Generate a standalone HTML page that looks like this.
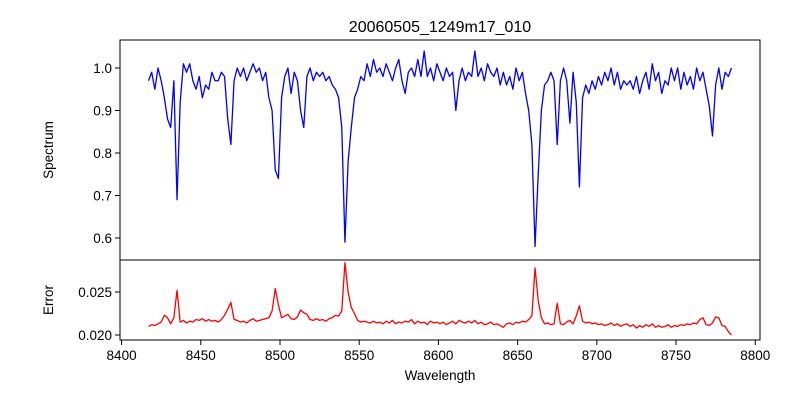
<!DOCTYPE html>
<html><head><meta charset="utf-8"><style>
body{margin:0;background:#fff}
svg{display:block;font-family:"Liberation Sans","DejaVu Sans",sans-serif}
</style></head><body>
<svg id="c" width="800" height="400" viewBox="0 0 800 400"></svg>
<script>
const wlStart = 8417, wlStep = 2;
const flux = [.97,.99,.95,1.0,.97,.93,.88,.86,.97,.69,.92,1.01,.99,1.01,.97,.95,.98,.93,.96,.95,.99,.97,.97,.99,.98,.88,.82,.97,1.0,.98,1.0,.97,.99,1.01,.99,1.0,.97,.99,.93,.9,.76,.74,.93,.98,1.0,.94,.99,.97,.9,.86,.98,1.0,.97,.99,.98,.99,.97,.98,.96,.95,.93,.86,.59,.78,.86,.93,.95,.98,.97,1.01,.98,1.02,.99,1.0,.98,1.01,.99,.97,1.0,1.02,.97,.94,.99,1.0,.98,1.02,.98,1.04,.98,1.0,.97,1.01,.99,.97,1.0,.98,.99,.9,.97,1.0,.97,.99,.98,1.04,.98,1.0,.97,1.01,.99,.98,1.0,.96,.99,.96,.98,.95,1.0,.97,.99,.94,.9,.82,.58,.75,.9,.96,.97,.99,.97,.82,.97,1.0,.97,.87,.99,.92,.72,.93,.96,.94,.97,.95,.98,.96,.99,.97,1.0,.96,.99,.95,.97,.96,.97,.95,.98,.94,.97,.99,.95,1.01,.97,.99,.94,.97,.96,1.0,.97,1.0,.95,.99,.96,.98,.95,1.0,.97,.99,.95,.91,.84,.96,1.0,.95,.99,.98,1.0];
const err = [.0210,.0212,.0211,.0213,.0215,.0223,.0220,.0213,.0220,.0252,.0215,.0217,.0214,.0216,.0215,.0218,.0217,.0219,.0216,.0218,.0216,.0217,.0215,.0218,.0223,.0230,.0238,.0218,.0217,.0215,.0216,.0214,.0217,.0219,.0216,.0217,.0218,.0219,.0220,.0228,.0254,.0235,.0220,.0222,.0224,.0219,.0218,.0221,.0229,.0226,.0224,.0218,.0217,.0219,.0217,.0218,.0216,.0219,.0220,.0223,.0222,.0228,.0284,.0250,.0232,.0225,.0217,.0215,.0216,.0215,.0214,.0216,.0214,.0215,.0213,.0216,.0214,.0217,.0213,.0215,.0214,.0216,.0215,.0218,.0213,.0216,.0214,.0215,.0212,.0216,.0214,.0215,.0213,.0215,.0212,.0214,.0216,.0213,.0217,.0215,.0214,.0216,.0214,.0217,.0213,.0215,.0212,.0213,.0215,.0212,.0213,.0211,.0209,.0213,.0214,.0212,.0215,.0214,.0216,.0215,.0218,.0222,.0278,.0240,.0220,.0213,.0214,.0212,.0213,.0237,.0213,.0212,.0215,.0217,.0213,.0222,.0234,.0216,.0214,.0215,.0213,.0214,.0212,.0213,.0211,.0212,.0214,.0211,.0213,.0210,.0212,.0213,.0210,.0212,.0208,.0211,.0209,.0212,.0210,.0213,.0209,.0211,.0209,.0210,.0212,.0209,.0211,.0210,.0212,.0211,.0213,.0212,.0214,.0213,.0218,.0220,.0212,.0211,.0214,.0221,.0220,.0211,.0210,.0204,.0200];
const xTicks = [8400,8450,8500,8550,8600,8650,8700,8750,8800];
const yTopTicks = [0.6,0.7,0.8,0.9,1.0];
const yBotTicks = [0.020,0.025];

const NS="http://www.w3.org/2000/svg", svg=document.getElementById('c');
const L=120,R=760,T1=40,B1=260,T2=260,B2=340;
const xmin=8399, xmax=8803;
const X=v=>L+(v-xmin)/(xmax-xmin)*(R-L);
const Y1=v=>68+(1.0-v)*425;
const Y2=v=>335-(v-0.020)*8600;
function mk(t,a,txt){const e=document.createElementNS(NS,t);for(const k in a)e.setAttribute(k,a[k]);if(txt!==undefined)e.textContent=txt;svg.appendChild(e);return e;}

let e;
e=mk('text',{x:440,y:32,'text-anchor':'middle','font-size':16,fill:'#000'},'20060505_1249m17_010');



let d=flux.map((v,i)=>(i?'L':'M')+X(wlStart+i*wlStep).toFixed(2)+','+Y1(v).toFixed(2)).join('');
e=mk('path',{d:d,fill:'none',stroke:'#0000ff','stroke-width':1.3,'stroke-linejoin':'round'});


d=err.map((v,i)=>(i?'L':'M')+X(wlStart+i*wlStep).toFixed(2)+','+Y2(v).toFixed(2)).join('');
e=mk('path',{d:d,fill:'none',stroke:'#ff0000','stroke-width':1.3,'stroke-linejoin':'round'});



e=mk('rect',{x:L,y:T1,width:R-L,height:B1-T1,fill:'none',stroke:'#000','stroke-width':1});


e=mk('rect',{x:L,y:T2,width:R-L,height:B2-T2,fill:'none',stroke:'#000','stroke-width':1});



yTopTicks.forEach(v=>{const y=Y1(v);
 e=mk('line',{x1:L-5,x2:L,y1:y,y2:y,stroke:'#000'});
 
 
 e=mk('text',{x:L-8,y:y+5,'text-anchor':'end','font-size':13.5},v.toFixed(1));
 
 });
yBotTicks.forEach(v=>{const y=Y2(v);
 e=mk('line',{x1:L-5,x2:L,y1:y,y2:y,stroke:'#000'});
 
 
 e=mk('text',{x:L-8,y:y+5,'text-anchor':'end','font-size':13.5},v.toFixed(3));
 
 });
xTicks.forEach(v=>{const x=X(v);
 e=mk('line',{x1:x,x2:x,y1:B2,y2:B2+5,stroke:'#000'});
 
 
 e=mk('text',{x:x,y:B2+20,'text-anchor':'middle','font-size':13.5},String(v));
 
 });

e=mk('text',{x:440,y:380,'text-anchor':'middle','font-size':13.5},'Wavelength');


e=mk('text',{x:0,y:0,'text-anchor':'middle','font-size':13.5,transform:'translate(53,150) rotate(-90)'},'Spectrum');


e=mk('text',{x:0,y:0,'text-anchor':'middle','font-size':13.5,transform:'translate(53,300) rotate(-90)'},'Error');


</script>
</body></html>
